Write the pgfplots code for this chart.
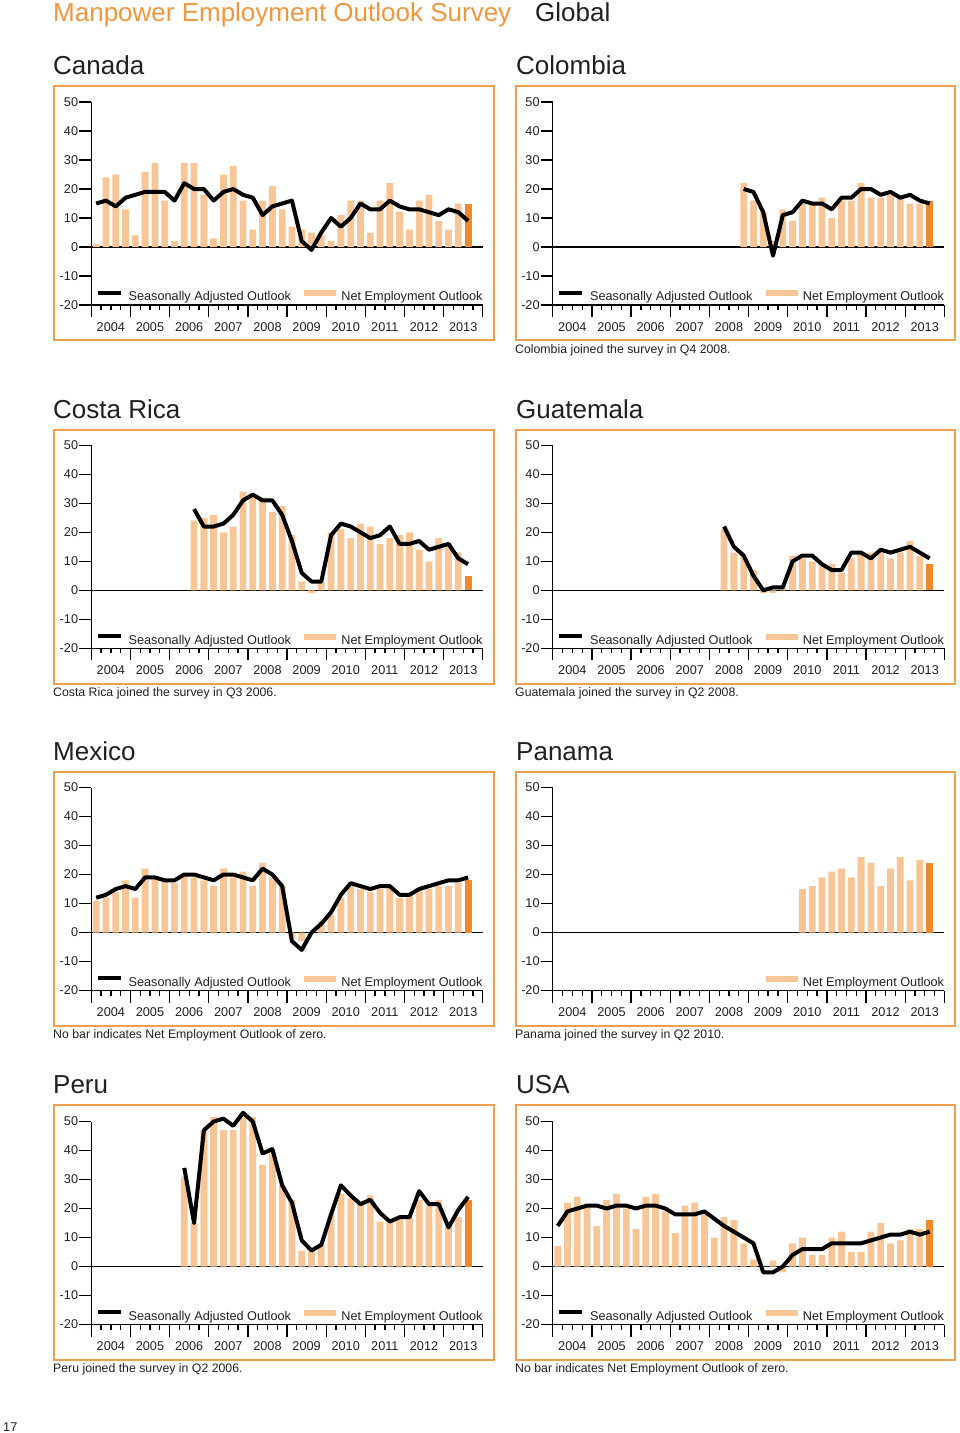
\documentclass[border=0pt]{standalone}
\usepackage{pgfplots}
\pgfplotsset{compat=1.18}
\usepackage{fontspec}
\setmainfont{Liberation Sans}
\definecolor{barlight}{HTML}{F8C696}
\definecolor{bardark}{HTML}{EE892D}
\definecolor{boxorange}{HTML}{EEA050}
\definecolor{titleorange}{HTML}{F0963C}
\definecolor{txt}{HTML}{231F20}
\newcommand{\smallf}{\fontsize{12.7}{15}\selectfont}
\newcommand{\titlef}{\fontsize{26}{30}\selectfont}
\newcommand{\notef}{\fontsize{12.3}{15}\selectfont}
\pgfplotsset{
  panel/.style={
    scale only axis, width=391.5pt, height=203pt, anchor=south west,
    xmin=0, xmax=40, ymin=-20, ymax=50,
    axis x line*=bottom, axis y line*=left,
    axis line style={line width=1.3pt,-},
    tick style={black,line width=1.3pt},
    tick align=outside,
    major tick length=12pt, minor tick length=5pt,
    xtick={0,4,...,40},
    xticklabels={2004,2005,2006,2007,2008,2009,2010,2011,2012,2013,{}},
    minor x tick num=3,
    ytick={-20,-10,0,10,20,30,40,50},
    yticklabels={-20,-10,0,10,20,30,40,50},
    xticklabel style={xshift=19.55pt, yshift=-2pt, font=\smallf, text=txt},
    yticklabel style={font=\smallf, inner sep=1pt, text=txt},
    extra y ticks={0}, extra y tick labels={},
    extra y tick style={grid=major, major grid style={black,line width=1.2pt}},
    clip=false,
    legend style={at={(axis cs:40,-17.0)}, anchor=east, draw=none, fill=none,
      inner sep=0pt, font=\smallf, text=txt, legend columns=2,
      /tikz/every odd column/.style={column sep=6pt},
      /tikz/every even column/.style={column sep=13pt},
      nodes={inner sep=0pt}},
    legend cell align=left,
  },
  nbar/.style={ybar, bar width=6.8pt, bar shift=0pt, fill=barlight, draw=none, forget plot},
  dbar/.style={ybar, bar width=6.8pt, bar shift=0pt, fill=bardark, draw=none, forget plot},
  sa/.style={black, line width=4pt, line join=round, mark=none, forget plot},
}
\newcommand{\legSA}{\addlegendimage{legend image code/.code={\draw[black,line width=4pt] (0pt,4.3pt) -- (23pt,4.3pt);}}\addlegendentry{Seasonally Adjusted Outlook}}
\newcommand{\legNEO}{\addlegendimage{legend image code/.code={\fill[barlight] (0pt,1.3pt) rectangle (31pt,6.3pt);}}\addlegendentry{Net Employment Outlook}}
\begin{document}
\begin{tikzpicture}
\useasboundingbox (0pt,0pt) rectangle (960pt,-1433pt);
% titles
\node[anchor=base west, inner sep=0pt, text=titleorange, font=\titlef] at (53pt,-21pt) {Manpower Employment Outlook Survey};
\node[anchor=base west, inner sep=0pt, text=txt, font=\titlef] at (535pt,-21pt) {Global};
\foreach \x/\y/\t in {53/74.5/Canada, 516/74.5/Colombia, 53/418.5/Costa Rica, 516/418.5/Guatemala, 53/760/Mexico, 516/760/Panama, 53/1093.5/Peru, 516/1093.5/USA}
  \node[anchor=base west, inner sep=0pt, text=txt, font=\titlef] at (\x pt,-\y pt) {\t};
% boxes
\foreach \t/\b in {86/340, 430/683.5, 771.5/1025.5, 1105/1359.5}{
  \draw[boxorange, line width=2pt] (54pt,-\t pt) rectangle (494pt,-\b pt);
  \draw[boxorange, line width=2pt] (516pt,-\t pt) rectangle (955pt,-\b pt);
}
% notes
\node[anchor=base west, inner sep=0pt, text=txt, font=\notef] at (515pt,-353pt) {Colombia joined the survey in Q4 2008.};
\node[anchor=base west, inner sep=0pt, text=txt, font=\notef] at (53pt,-696.5pt) {Costa Rica joined the survey in Q3 2006.};
\node[anchor=base west, inner sep=0pt, text=txt, font=\notef] at (515pt,-696.5pt) {Guatemala joined the survey in Q2 2008.};
\node[anchor=base west, inner sep=0pt, text=txt, font=\notef] at (53pt,-1038.5pt) {No bar indicates Net Employment Outlook of zero.};
\node[anchor=base west, inner sep=0pt, text=txt, font=\notef] at (515pt,-1038.5pt) {Panama joined the survey in Q2 2010.};
\node[anchor=base west, inner sep=0pt, text=txt, font=\notef] at (53pt,-1372.5pt) {Peru joined the survey in Q2 2006.};
\node[anchor=base west, inner sep=0pt, text=txt, font=\notef] at (515pt,-1372.5pt) {No bar indicates Net Employment Outlook of zero.};
\node[anchor=base west, inner sep=0pt, text=txt, font=\smallf] at (3pt,-1431pt) {17};

% Canada
\begin{axis}[panel, at={(91.3pt,-305pt)}]
\legSA \legNEO
\addplot[nbar] coordinates {(0.5,1)(1.5,24)(2.5,25)(3.5,13)(4.5,4)(5.5,26)(6.5,29)(7.5,16)(8.5,2)(9.5,29)(10.5,29)(11.5,18)(12.5,3)(13.5,25)(14.5,28)(15.5,16)(16.5,6)(17.5,16)(18.5,21)(19.5,13)(20.5,7)(21.5,6)(22.5,5)(23.5,4)(24.5,2)(25.5,11)(26.5,16)(27.5,16)(28.5,5)(29.5,16)(30.5,22)(31.5,12)(32.5,6)(33.5,16)(34.5,18)(35.5,9)(36.5,6)(37.5,15)};
\addplot[dbar] coordinates {(38.5,15)};
\addplot[sa] coordinates {(0.5,15)(1.5,16)(2.5,14)(3.5,17)(4.5,18)(5.5,19)(6.5,19)(7.5,19)(8.5,16)(9.5,22)(10.5,20)(11.5,20)(12.5,16)(13.5,19)(14.5,20)(15.5,18)(16.5,17)(17.5,11)(18.5,14)(19.5,15)(20.5,16)(21.5,2)(22.5,-1)(23.5,5)(24.5,10)(25.5,7)(26.5,10)(27.5,15)(28.5,13)(29.5,13)(30.5,16)(31.5,14)(32.5,13)(33.5,13)(34.5,12)(35.5,11)(36.5,13)(37.5,12)(38.5,9)};
\end{axis}

% Colombia
\begin{axis}[panel, at={(552.8pt,-305pt)}]
\legSA \legNEO
\addplot[nbar] coordinates {(19.5,22)(20.5,16)(21.5,12)(22.5,2)(23.5,13)(24.5,9)(25.5,16)(26.5,15)(27.5,17)(28.5,10)(29.5,16)(30.5,16)(31.5,22)(32.5,17)(33.5,17)(34.5,18)(35.5,18)(36.5,15)(37.5,15)};
\addplot[dbar] coordinates {(38.5,16)};
\addplot[sa] coordinates {(19.5,20)(20.5,19)(21.5,12)(22.5,-3)(23.5,11)(24.5,12)(25.5,16)(26.5,15)(27.5,15)(28.5,13)(29.5,17)(30.5,17)(31.5,20)(32.5,20)(33.5,18)(34.5,19)(35.5,17)(36.5,18)(37.5,16)(38.5,15)};
\end{axis}

% Costa Rica
\begin{axis}[panel, at={(91.3pt,-648.3pt)}]
\legSA \legNEO
\addplot[nbar] coordinates {(10.5,24)(11.5,25)(12.5,26)(13.5,20)(14.5,22)(15.5,34)(16.5,33)(17.5,32)(18.5,27)(19.5,29)(20.5,19)(21.5,3)(22.5,-1)(23.5,3)(24.5,20)(25.5,21)(26.5,18)(27.5,23)(28.5,22)(29.5,16)(30.5,18)(31.5,19)(32.5,20)(33.5,14)(34.5,10)(35.5,18)(36.5,16)(37.5,13)};
\addplot[dbar] coordinates {(38.5,5)};
\addplot[sa] coordinates {(10.5,28)(11.5,22)(12.5,22)(13.5,23)(14.5,26)(15.5,31)(16.5,33)(17.5,31)(18.5,31)(19.5,26)(20.5,17)(21.5,6)(22.5,3)(23.5,3)(24.5,19)(25.5,23)(26.5,22)(27.5,20)(28.5,18)(29.5,19)(30.5,22)(31.5,16)(32.5,16)(33.5,17)(34.5,14)(35.5,15)(36.5,16)(37.5,11)(38.5,9)};
\end{axis}

% Guatemala
\begin{axis}[panel, at={(552.8pt,-648.3pt)}]
\legSA \legNEO
\addplot[nbar] coordinates {(17.5,21)(18.5,13)(19.5,12)(20.5,7)(21.5,-1)(22.5,-1)(23.5,1)(24.5,12)(25.5,11)(26.5,10)(27.5,9)(28.5,9)(29.5,6)(30.5,11)(31.5,13)(32.5,13)(33.5,13)(34.5,11)(35.5,13)(36.5,17)(37.5,12)};
\addplot[dbar] coordinates {(38.5,9)};
\addplot[sa] coordinates {(17.5,22)(18.5,15)(19.5,12)(20.5,5)(21.5,0)(22.5,1)(23.5,1)(24.5,10)(25.5,12)(26.5,12)(27.5,9)(28.5,7)(29.5,7)(30.5,13)(31.5,13)(32.5,11)(33.5,14)(34.5,13)(35.5,14)(36.5,15)(37.5,13)(38.5,11)};
\end{axis}

% Mexico
\begin{axis}[panel, at={(91.3pt,-990.5pt)}]
\legSA \legNEO
\addplot[nbar] coordinates {(0.5,11)(1.5,12)(2.5,14)(3.5,18)(4.5,12)(5.5,22)(6.5,19)(7.5,18)(8.5,17)(9.5,20)(10.5,19)(11.5,18)(12.5,16)(13.5,22)(14.5,19)(15.5,21)(16.5,16)(17.5,24)(18.5,19)(19.5,16)(20.5,-2)(21.5,-3)(22.5,0)(23.5,4)(24.5,6)(25.5,12)(26.5,16)(27.5,15)(28.5,14)(29.5,15)(30.5,16)(31.5,12)(32.5,13)(33.5,15)(34.5,15)(35.5,16)(36.5,16)(37.5,17)};
\addplot[dbar] coordinates {(38.5,18)};
\addplot[sa] coordinates {(0.5,12)(1.5,13)(2.5,15)(3.5,16)(4.5,15)(5.5,19)(6.5,19)(7.5,18)(8.5,18)(9.5,20)(10.5,20)(11.5,19)(12.5,18)(13.5,20)(14.5,20)(15.5,19)(16.5,18)(17.5,22)(18.5,20)(19.5,16)(20.5,-3)(21.5,-6)(22.5,0)(23.5,3)(24.5,7)(25.5,13)(26.5,17)(27.5,16)(28.5,15)(29.5,16)(30.5,16)(31.5,13)(32.5,13)(33.5,15)(34.5,16)(35.5,17)(36.5,18)(37.5,18)(38.5,19)};
\end{axis}

% Panama
\begin{axis}[panel, at={(552.8pt,-990.5pt)}]
\legNEO
\addplot[nbar] coordinates {(25.5,15)(26.5,16)(27.5,19)(28.5,21)(29.5,22)(30.5,19)(31.5,26)(32.5,24)(33.5,16)(34.5,22)(35.5,26)(36.5,18)(37.5,25)};
\addplot[dbar] coordinates {(38.5,24)};
\end{axis}

% Peru
\begin{axis}[panel, at={(91.3pt,-1324.5pt)}]
\legSA \legNEO
\addplot[nbar] coordinates {(9.5,31)(10.5,15)(11.5,47)(12.5,51.5)(13.5,47)(14.5,47)(15.5,51.5)(16.5,51.5)(17.5,35)(18.5,40)(19.5,28)(20.5,23)(21.5,5.5)(22.5,5)(23.5,7.5)(24.5,18)(25.5,25)(26.5,23.5)(27.5,22)(28.5,24.5)(29.5,15.5)(30.5,15)(31.5,17)(32.5,17)(33.5,23)(34.5,21)(35.5,23)(36.5,14)(37.5,17)};
\addplot[dbar] coordinates {(38.5,23)};
\addplot[sa] coordinates {(9.5,34)(10.5,15)(11.5,47)(12.5,50)(13.5,51)(14.5,48.5)(15.5,53)(16.5,50)(17.5,39)(18.5,40.5)(19.5,28)(20.5,22)(21.5,9)(22.5,5.5)(23.5,7.5)(24.5,18)(25.5,28)(26.5,24.5)(27.5,21.5)(28.5,23)(29.5,18.5)(30.5,15.5)(31.5,17)(32.5,17)(33.5,26)(34.5,21.5)(35.5,21.5)(36.5,13.5)(37.5,19.5)(38.5,24)};
\end{axis}

% USA
\begin{axis}[panel, at={(552.8pt,-1324.5pt)}]
\legSA \legNEO
\addplot[nbar] coordinates {(0.5,7)(1.5,22)(2.5,24)(3.5,21)(4.5,14)(5.5,23)(6.5,25)(7.5,20)(8.5,13)(9.5,24)(10.5,25)(11.5,19)(12.5,11.5)(13.5,21)(14.5,22)(15.5,18)(16.5,10)(17.5,17)(18.5,16)(19.5,8)(20.5,2.5)(21.5,0)(22.5,2)(23.5,-2)(24.5,8)(25.5,10)(26.5,4)(27.5,4)(28.5,10)(29.5,12)(30.5,5)(31.5,5)(32.5,12)(33.5,15)(34.5,8)(35.5,9)(36.5,13)(37.5,13)};
\addplot[dbar] coordinates {(38.5,16)};
\addplot[sa] coordinates {(0.5,14)(1.5,19)(2.5,20)(3.5,21)(4.5,21)(5.5,20)(6.5,21)(7.5,21)(8.5,20)(9.5,21)(10.5,21)(11.5,20)(12.5,18)(13.5,18)(14.5,18)(15.5,19)(16.5,16.5)(17.5,14)(18.5,12)(19.5,10)(20.5,8)(21.5,-2)(22.5,-2)(23.5,0)(24.5,4)(25.5,6)(26.5,6)(27.5,6)(28.5,8)(29.5,8)(30.5,8)(31.5,8)(32.5,9)(33.5,10)(34.5,11)(35.5,11)(36.5,12)(37.5,11)(38.5,12)};
\end{axis}
\end{tikzpicture}
\end{document}
